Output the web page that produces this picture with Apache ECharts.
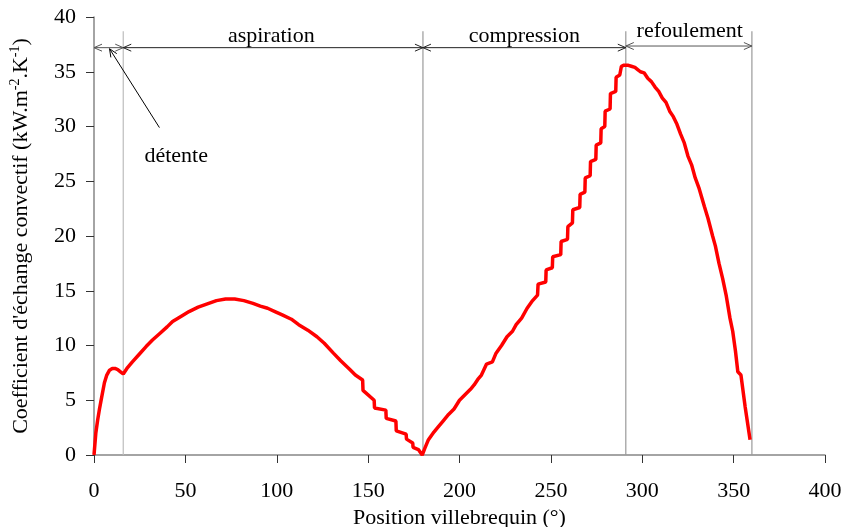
<!DOCTYPE html>
<html>
<head>
<meta charset="utf-8">
<script src="https://cdn.jsdelivr.net/npm/echarts@6/dist/echarts.min.js"></script>
<style>
  html, body { margin: 0; padding: 0; background: #fff; }
  #chart { width: 842px; height: 527px; }
</style>
</head>
<body>
<div id="chart"></div>
<script>
// crank angle (deg) and convective coefficient (kW.m-2.K-1)
const crankAngle = [
  0, 1, 2, 3, 4, 5.7, 7, 8.5, 10, 11.5, 13, 14.5, 16, 18, 21, 25, 28.5, 32, 36, 40,
  43, 48, 52, 57, 62, 67, 72, 77, 82, 87, 91, 95, 99, 103, 108, 112, 117, 122, 126, 131,
  135, 140, 143, 147, 147.2, 153.3, 153.5, 159.7, 159.9, 165.2, 165.4, 170.8, 171, 174.4, 174.6, 177.5, 179.6,
  181, 183, 186, 188, 191, 194, 197, 200, 203, 206, 208, 210, 212, 214.8, 218, 220, 223, 226, 229,
  231, 234, 237, 240, 242.7, 243, 247.2, 247.4, 250.8, 251, 255.4, 255.6, 259.1, 259.3, 261.8, 262,
  265.8, 266, 268.6, 268.8, 271.5, 271.7, 274.6, 274.8, 277.3, 277.5, 279.5, 279.7, 282.4, 282.6,
  285.5, 285.7, 287.7, 288.6, 290, 292, 294, 296, 297.5, 299, 301, 303, 305, 307, 309, 311,
  313, 315, 317, 319, 321, 323, 325, 327, 329, 331, 334, 336, 338.5, 340, 342, 344, 346, 348,
  349.5, 351, 352.3, 354, 356.3, 359
];
const hCoeff = [
  0, 2.0, 3.2, 4.2, 5.1, 6.6, 7.3, 7.75, 7.9, 7.9, 7.8, 7.6, 7.4, 7.9, 8.5, 9.25, 9.9, 10.5, 11.1, 11.7,
  12.2, 12.7, 13.1, 13.5, 13.8, 14.1, 14.25, 14.25, 14.1, 13.85, 13.6, 13.4, 13.1, 12.8, 12.4, 11.9, 11.4, 10.8, 10.2, 9.3,
  8.6, 7.8, 7.3, 6.85, 5.9, 5.0, 4.3, 4.1, 3.35, 3.1, 2.2, 1.9, 1.45, 1.1, 0.7, 0.5, 0,
  0.6, 1.4, 2.1, 2.5, 3.1, 3.7, 4.2, 5.0, 5.5, 6.0, 6.4, 6.9, 7.3, 8.3, 8.5, 9.3, 10.0, 10.8, 11.3,
  11.9, 12.5, 13.4, 14.1, 14.6, 15.6, 15.8, 16.9, 17.1, 18.1, 18.3, 19.5, 19.7, 20.85, 21.2, 22.4,
  22.6, 23.8, 24.0, 25.3, 25.5, 26.8, 27.0, 28.3, 28.5, 29.8, 30.0, 31.4, 31.6, 33.0,
  33.2, 34.5, 34.7, 35.5, 35.6, 35.6, 35.5, 35.4, 35.2, 35.0, 34.9, 34.4, 34.1, 33.6, 33.2, 32.6,
  32.2, 31.4, 30.9, 30.2, 29.3, 28.5, 27.3, 26.5, 25.3, 24.4, 22.7, 21.6, 20.0, 19.1, 17.5, 16.1, 14.5, 12.5,
  11.3, 9.5, 7.6, 7.3, 4.4, 1.4
];

const xTicks = { min: 0, max: 400, interval: 50 };
const yTicks = { min: 0, max: 40, interval: 5 };

// phase boundaries and annotations
const boundaryAngles = [16, 180, 291, 360];
const boundaryTop = 38.7;
const phaseStart = [0, 16, 180, 291];
const phaseEnd = [16, 180, 291, 360];
const phaseArrowLevel = [37.2, 37.2, 37.2, 37.35];
const phaseNames = ['aspiration', 'compression', 'refoulement'];
const phaseLabelX = [97, 235.5, 326];
const phaseLabelY = [38.2, 38.2, 38.7];
const detenteLabel = ['détente', 45, 27.3];
const detentePointer = [[35.8, 29.9], [8.5, 37.1]];

const serif = '"Liberation Serif", "Times New Roman", serif';
const fontSize = 22;

const chevron = (tip, from, color) => {
  const dx = tip[0] - from[0];
  const dy = tip[1] - from[1];
  const d = Math.hypot(dx, dy) || 1;
  const ux = dx / d, uy = dy / d;
  const nx = -uy, ny = ux;
  const len = 8, half = 3.5;
  const bx = tip[0] - ux * len, by = tip[1] - uy * len;
  return {
    type: 'polyline',
    shape: { points: [[bx + nx * half, by + ny * half], tip, [bx - nx * half, by - ny * half]] },
    style: { stroke: color, lineWidth: 1, fill: null },
  };
};

const textEl = (text, pos) => ({
  type: 'text',
  x: pos[0],
  y: pos[1],
  style: {
    text,
    font: `${fontSize}px ${serif}`,
    fill: '#000',
    align: 'center',
    verticalAlign: 'middle',
    textAlign: 'center',
    textVerticalAlign: 'middle',
  },
});

const chart = echarts.init(document.getElementById('chart'), null, { renderer: 'canvas' });
chart.setOption({
  animation: false,
  backgroundColor: '#fff',
  grid: { left: 94, right: 17, top: 17, bottom: 72, containLabel: false, outerBoundsMode: 'none' },
  xAxis: {
    type: 'value',
    min: xTicks.min,
    max: xTicks.max,
    interval: xTicks.interval,
    name: 'Position villebrequin (°)',
    nameLocation: 'middle',
    nameGap: 49,
    nameTextStyle: { fontFamily: serif, fontSize: fontSize, color: '#000' },
    axisLine: { onZero: false, lineStyle: { color: '#868686', width: 1.5 } },
    axisTick: { length: 8, lineStyle: { color: '#333', width: 1 } },
    axisLabel: { margin: 25, fontFamily: serif, fontSize: fontSize, color: '#000' },
    splitLine: { show: false },
  },
  yAxis: {
    type: 'value',
    min: yTicks.min,
    max: yTicks.max,
    interval: yTicks.interval,
    name: "Coefficient d'échange convectif (kW.m{sup|-2}.K{sup|-1})",
    nameLocation: 'middle',
    nameGap: 60,
    nameTextStyle: {
      fontFamily: serif,
      fontSize: fontSize,
      color: '#000',
      rich: {
        sup: { fontFamily: serif, fontSize: 14, color: '#000', padding: [0, 0, 12, 0] },
      },
    },
    axisLine: { lineStyle: { color: '#868686', width: 1.5 } },
    axisTick: { length: 8, lineStyle: { color: '#333', width: 1 } },
    axisLabel: { margin: 18, fontFamily: serif, fontSize: fontSize, color: '#000' },
    splitLine: { show: false },
  },
  series: [
    {
      name: 'separators',
      type: 'custom',
      silent: true,
      clip: false,
      data: boundaryAngles.map((a) => [a, boundaryTop]),
      renderItem: (params, api) => {
        const p0 = api.coord([api.value(0), 0]);
        const p1 = api.coord([api.value(0), api.value(1)]);
        return {
          type: 'line',
          shape: { x1: p0[0], y1: p0[1], x2: p1[0], y2: p1[1] },
          style: { stroke: params.dataIndex === 0 ? '#bdbdbd' : '#9a9a9a', lineWidth: 1.2 },
        };
      },
    },
    {
      name: 'coefficient',
      type: 'line',
      showSymbol: false,
      smooth: false,
      lineStyle: { color: '#ff0000', width: 3.5 },
      itemStyle: { color: '#ff0000' },
      data: crankAngle.map((a, i) => [a, hCoeff[i]]),
      z: 3,
    },
    {
      name: 'phases',
      type: 'custom',
      silent: true,
      clip: false,
      data: phaseStart.map((s, i) => [s, phaseEnd[i], phaseArrowLevel[i]]),
      renderItem: (params, api) => {
        const a = api.coord([api.value(0), api.value(2)]);
        const b = api.coord([api.value(1), api.value(2)]);
        const color = params.dataIndex === 0 || params.dataIndex === 3 ? '#555' : '#222';
        return {
          type: 'group',
          children: [
            { type: 'line', shape: { x1: a[0], y1: a[1], x2: b[0], y2: b[1] }, style: { stroke: color, lineWidth: 1 } },
            chevron(a, b, color),
            chevron(b, a, color),
          ],
        };
      },
      z: 4,
    },
    {
      name: 'labels',
      type: 'custom',
      silent: true,
      clip: false,
      data: [0],
      renderItem: (params, api) => {
        const children = phaseNames.map((n, i) => textEl(n, api.coord([phaseLabelX[i], phaseLabelY[i]])));
        children.push(textEl(detenteLabel[0], api.coord([detenteLabel[1], detenteLabel[2]])));
        const from = api.coord(detentePointer[0]);
        const tip = api.coord(detentePointer[1]);
        children.push({
          type: 'line',
          shape: { x1: from[0], y1: from[1], x2: tip[0], y2: tip[1] },
          style: { stroke: '#000', lineWidth: 1 },
        });
        children.push(chevron(tip, from, '#000'));
        return { type: 'group', children };
      },
      z: 5,
    },
  ],
});
</script>
</body>
</html>
